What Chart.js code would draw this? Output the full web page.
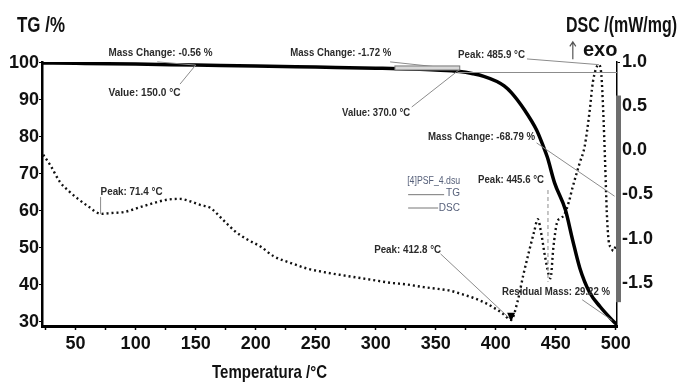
<!DOCTYPE html>
<html>
<head>
<meta charset="utf-8">
<script src="https://cdn.jsdelivr.net/npm/chart.js@4.4.1/dist/chart.umd.min.js"></script>
<style>
  html, body { margin: 0; padding: 0; background: #fff; }
</style>
</head>
<body>
<canvas id="tgdsc" width="681" height="385"></canvas>
<script>
// TG curve (mass %, left axis)
const tgTemp = [22, 50, 100, 150, 200, 250, 300, 350, 370, 381, 390, 401, 407, 413, 424, 434, 439, 443, 449, 458, 464, 470, 478, 487, 497, 501];
const tgMass = [100, 99.9, 99.7, 99.44, 99.2, 98.9, 98.6, 98.1, 97.7, 97.1, 96.4, 95.0, 93.8, 92.0, 87.3, 81.9, 78.0, 74.5, 67.6, 60.3, 52.2, 44.6, 38.1, 34.1, 30.5, 29.2];

// DSC curve (mW/mg, right axis)
const dscTemp = [23, 29, 37, 45, 52, 60, 71.4, 80, 90, 107, 126, 137, 146, 154, 162, 173, 183, 193, 204, 215, 230, 243, 257, 270, 284, 298, 312, 326, 340, 352, 362, 372, 381, 390, 398, 405, 412.8, 418, 423, 428, 432, 435, 438, 441, 445.6, 448, 451, 454, 457, 461, 464, 470, 474, 478, 481, 485.9, 488, 489.5, 491, 492.5, 494, 496, 498, 500];
const dscValue = [-0.05, -0.17, -0.36, -0.47, -0.55, -0.63, -0.72, -0.71, -0.70, -0.63, -0.56, -0.55, -0.58, -0.62, -0.65, -0.79, -0.92, -1.01, -1.09, -1.20, -1.28, -1.34, -1.38, -1.41, -1.44, -1.47, -1.50, -1.52, -1.55, -1.57, -1.59, -1.63, -1.67, -1.72, -1.78, -1.84, -1.92, -1.72, -1.41, -1.13, -0.92, -0.78, -0.95, -1.20, -1.45, -1.10, -0.82, -0.77, -0.73, -0.58, -0.42, -0.14, 0.04, 0.42, 0.78, 0.97, 0.85, 0.45, -0.10, -0.70, -1.02, -1.10, -1.14, -1.08];

const tempTicks = [50, 100, 150, 200, 250, 300, 350, 400, 450, 500];
const tempMinorTicks = [25, 75, 125, 175, 225, 275, 325, 375, 425, 475];
const massTicks = [30, 40, 50, 60, 70, 80, 90, 100];
const dscTicks = [-1.5, -1.0, -0.5, 0.0, 0.5, 1.0];

const FONT = "'Liberation Sans', Arial, sans-serif";

// draw text squeezed to a given width (the original uses a condensed face)
function fitText(ctx, text, x, y, width) {
  const w = ctx.measureText(text).width;
  const k = Math.min(1, width / w);
  ctx.save();
  ctx.translate(x, y);
  ctx.scale(k, 1);
  ctx.fillText(text, 0, 0);
  ctx.restore();
}

// labels and leader lines of the instrument software
const notes = {
  id: "notes",
  afterDatasetsDraw(chart) {
    const { ctx, scales } = chart;
    const px = (t) => scales.x.getPixelForValue(t);
    const py = (v, ax) => scales[ax || "y"].getPixelForValue(v);

    ctx.save();

    // thin leader lines
    const leaders = [
      [118, 100.3, "y", 150, 99.44, "y"],
      [137, 94.3, "y", 150, 99.44, "y"],
      [312, 100.3, "y", 370, 98.28, "y"],
      [330, 88.1, "y", 370, 98.28, "y"],
      [426, 101.1, "y", 485.9, 0.97, "y1"],
      [434, 78.4, "y", 499, -0.52, "y1"],
      [354, 48.4, "y", 412.8, -1.92, "y1"],
      [472, 36.0, "y", 497, 30.4, "y"],
      [70.8, 63.8, "y", 70.8, -0.72, "y1"],
      [368, 97.43, "y", 501, 97.43, "y"]
    ];
    ctx.strokeStyle = "#8c8c8c";
    ctx.lineWidth = 1;
    leaders.forEach(l => {
      ctx.beginPath();
      ctx.moveTo(px(l[0]), py(l[1], l[2]));
      ctx.lineTo(px(l[3]), py(l[4], l[5]));
      ctx.stroke();
    });

    // dashed marker for 445.6 peak
    ctx.setLineDash([4, 3]);
    ctx.beginPath();
    ctx.moveTo(px(443.5), py(-0.45, "y1"));
    ctx.lineTo(px(443.5), py(-1.49, "y1"));
    ctx.stroke();
    ctx.setLineDash([]);

    // step box near 370 °C
    ctx.strokeStyle = "#777";
    ctx.fillStyle = "#d8d8d8";
    const bx = px(316), bw = px(370) - bx, by = py(99.2), bh = py(98.1) - by;
    ctx.fillRect(bx, by, bw, bh);
    ctx.strokeRect(bx, by, bw, bh);

    // peak marker 412.8
    ctx.fillStyle = "#000";
    const mx = px(412.8), my = py(-1.92, "y1");
    ctx.beginPath();
    ctx.moveTo(mx - 4, my - 7);
    ctx.lineTo(mx + 4, my - 7);
    ctx.lineTo(mx, my + 2);
    ctx.closePath();
    ctx.fill();

    // text labels: text, temperature, TG value, width
    const labels = [
      ["Mass Change: -0.56 %", 77.4, 102.7, 104],
      ["Value: 150.0 °C", 77.4, 91.9, 72],
      ["Mass Change: -1.72 %", 228.8, 102.7, 101],
      ["Value: 370.0 °C", 272, 86.5, 68],
      ["Peak: 485.9 °C", 368.6, 102.2, 67],
      ["Mass Change: -68.79 %", 343.6, 80.0, 107],
      ["Peak: 445.6 °C", 385.2, 68.4, 66],
      ["Peak: 412.8 °C", 298.7, 49.5, 67],
      ["Residual Mass: 29.22 %", 405.2, 38.1, 108],
      ["Peak: 71.4 °C", 70.8, 65.1, 62]
    ];
    ctx.font = "bold 11px " + FONT;
    ctx.fillStyle = "#2b2b2b";
    ctx.textAlign = "left";
    ctx.textBaseline = "middle";
    labels.forEach(l => fitText(ctx, l[0], px(l[1]), py(l[2]), l[3]));

    // exo arrow
    const ax = px(464.2);
    ctx.strokeStyle = "#555";
    ctx.lineWidth = 1.2;
    ctx.beginPath();
    ctx.moveTo(ax, py(101.0));
    ctx.lineTo(ax, py(105.5));
    ctx.moveTo(ax - 3, py(104.5));
    ctx.lineTo(ax, py(105.7));
    ctx.lineTo(ax + 3, py(104.5));
    ctx.stroke();
    ctx.font = "bold 20px " + FONT;
    ctx.fillStyle = "#111";
    fitText(ctx, "exo", px(472.6), py(103.4), 38);

    // small file legend
    ctx.font = "10px " + FONT;
    ctx.fillStyle = "#56607a";
    fitText(ctx, "[4]PSF_4.dsu", px(326.2), py(68.1), 53);
    ctx.textAlign = "right";
    ctx.fillText("TG", px(370.2), py(64.9));
    ctx.fillText("DSC", px(370.2), py(60.8));
    ctx.strokeStyle = "#777";
    ctx.lineWidth = 1;
    ctx.beginPath();
    ctx.moveTo(px(327), py(64.4));
    ctx.lineTo(px(357), py(64.4));
    ctx.moveTo(px(327), py(60.8));
    ctx.lineTo(px(352), py(60.8));
    ctx.stroke();

    // grey bar on the DSC axis
    ctx.fillStyle = "#6e6e6e";
    const gTop = py(0.62, "y1"), gBot = py(-1.72, "y1");
    ctx.fillRect(chart.chartArea.right - 1, gTop, 5, gBot - gTop);

    ctx.restore();
  },
  afterDraw(chart) {
    const { ctx } = chart;
    ctx.save();
    ctx.fillStyle = "#111";
    ctx.textBaseline = "alphabetic";
    ctx.textAlign = "left";
    ctx.font = "bold 22px " + FONT;
    fitText(ctx, "TG /%", 17, 32, 48);
    fitText(ctx, "DSC /(mW/mg)", 566, 32, 111);
    ctx.font = "bold 19px " + FONT;
    fitText(ctx, "Temperatura /°C", 212, 378, 115);
    ctx.restore();
  }
};

const tickFont = { family: FONT, size: 18, weight: "bold" };

new Chart(document.getElementById("tgdsc"), {
  type: "line",
  data: {
    datasets: [
      {
        label: "TG",
        data: tgTemp.map((t, i) => ({ x: t, y: tgMass[i] })),
        yAxisID: "y",
        borderColor: "#000",
        borderWidth: 3.5,
        pointRadius: 0,
        cubicInterpolationMode: "monotone",
        fill: false
      },
      {
        label: "DSC",
        data: dscTemp.map((t, i) => ({ x: t, y: dscValue[i] })),
        yAxisID: "y1",
        borderColor: "#111",
        borderWidth: 2.4,
        borderDash: [2, 3],
        pointRadius: 0,
        cubicInterpolationMode: "monotone",
        fill: false
      }
    ]
  },
  options: {
    responsive: false,
    animation: false,
    devicePixelRatio: 1,
    layout: { padding: { top: 62, left: 0, right: 0, bottom: 0 } },
    plugins: {
      legend: { display: false },
      tooltip: { enabled: false }
    },
    scales: {
      x: {
        type: "linear",
        min: 22,
        max: 501,
        afterBuildTicks: (s) => {
          s.ticks = tempTicks.concat(tempMinorTicks).sort((a, b) => a - b).map(v => ({ value: v }));
        },
        afterFit: (s) => { s.height = 59; },
        grid: { drawOnChartArea: false, tickLength: 4, color: "#000", tickWidth: 1.5 },
        border: { color: "#000", width: 3 },
        ticks: {
          font: tickFont, color: "#111", padding: 3, maxRotation: 0, autoSkip: false,
          callback: (v) => (tempTicks.includes(v) ? String(v) : "")
        }
      },
      y: {
        position: "left",
        min: 28.9,
        max: 100.27,
        afterBuildTicks: (s) => { s.ticks = massTicks.map(v => ({ value: v })); },
        afterFit: (s) => { s.width = 42; },
        grid: { drawOnChartArea: false, tickLength: 3, color: "#000" },
        border: { color: "#000", width: 2.5 },
        ticks: { font: tickFont, color: "#111", padding: 0, autoSkip: false }
      },
      y1: {
        position: "right",
        min: -1.99,
        max: 1.0,
        afterBuildTicks: (s) => { s.ticks = dscTicks.map(v => ({ value: v })); },
        afterFit: (s) => { s.width = 64; },
        grid: { drawOnChartArea: false, tickLength: 3, color: "#000" },
        border: { color: "#000", width: 1.5 },
        ticks: { font: tickFont, color: "#111", padding: 2, autoSkip: false, callback: (v) => Number(v).toFixed(1) }
      }
    }
  },
  plugins: [notes]
});
</script>
</body>
</html>
